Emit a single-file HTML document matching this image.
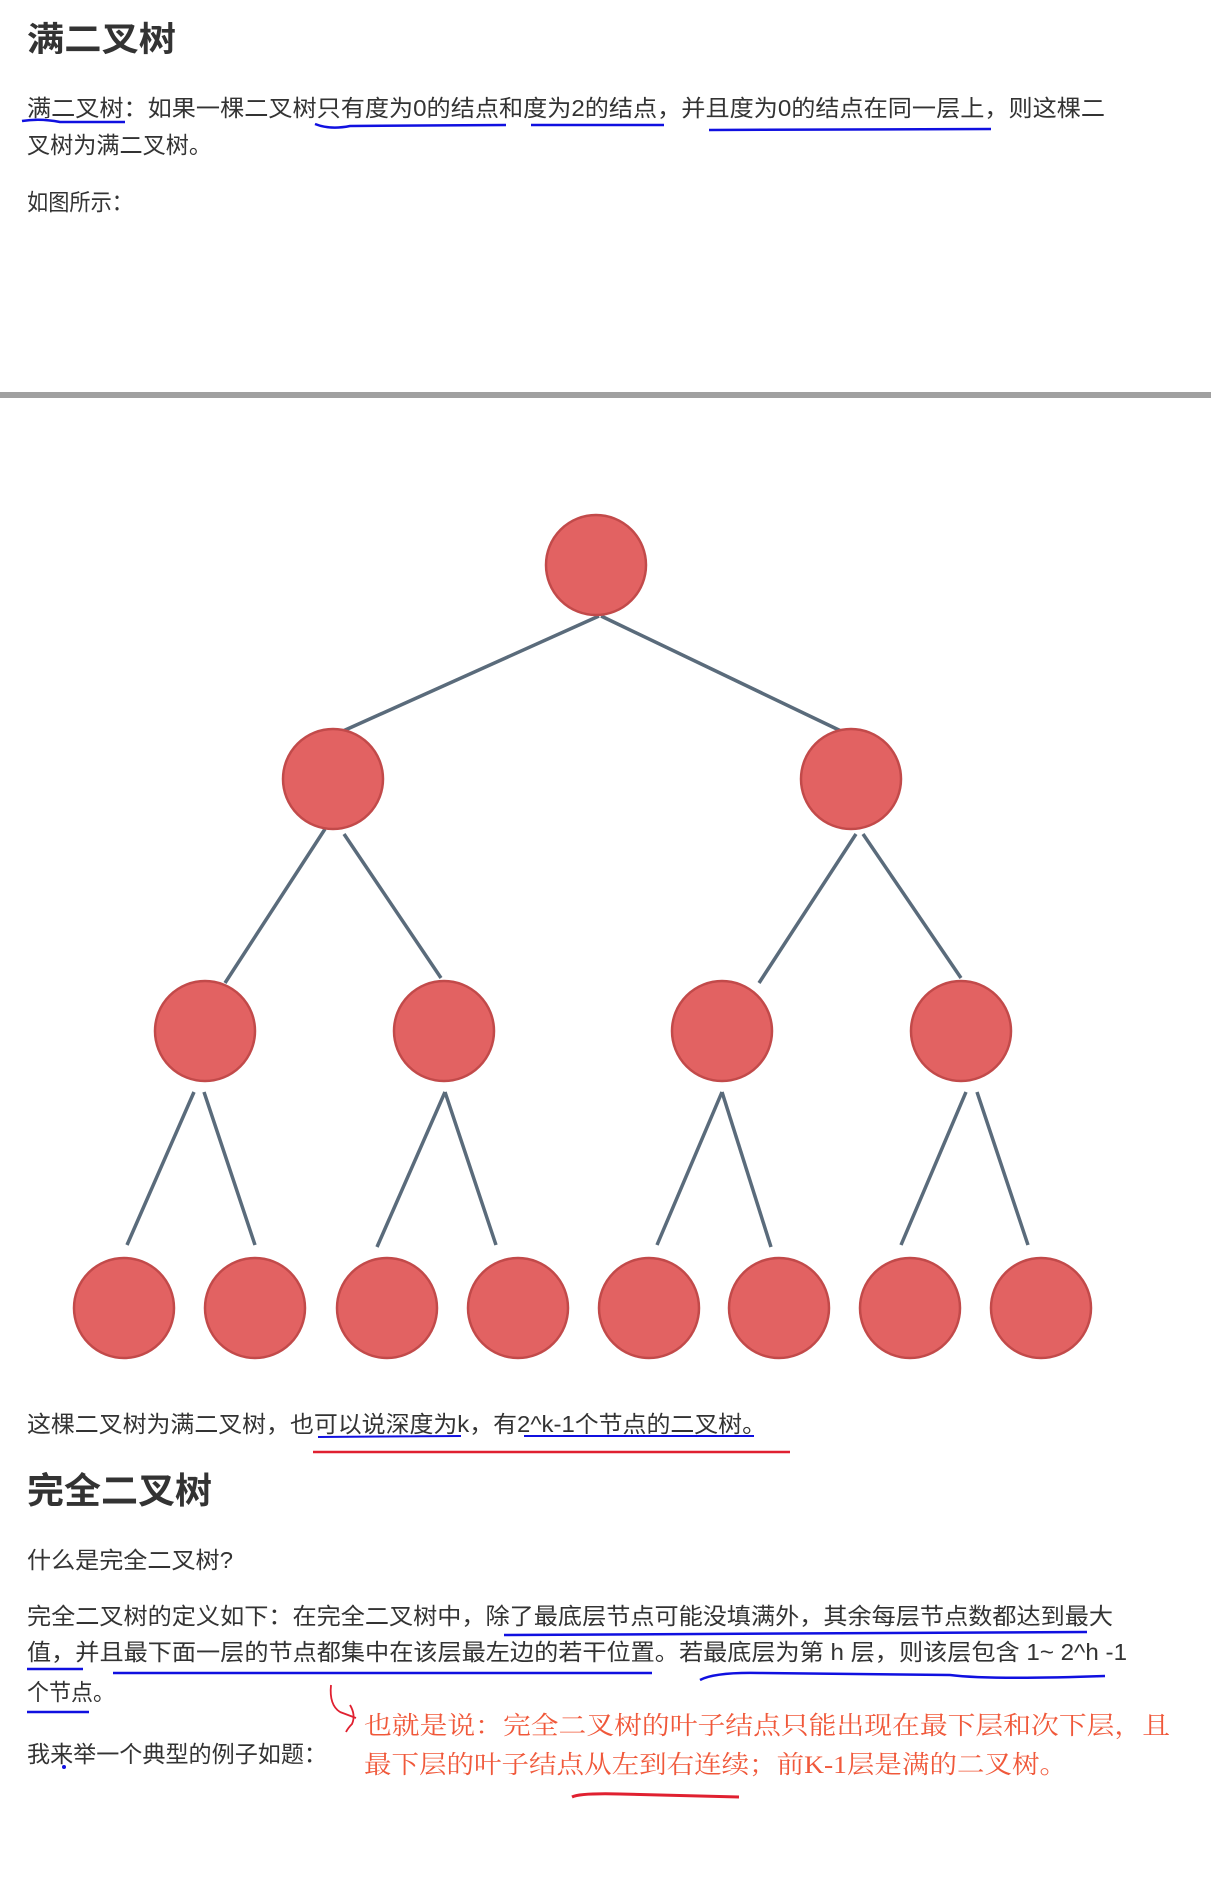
<!DOCTYPE html>
<html><head><meta charset="utf-8"><style>
html,body{margin:0;padding:0;background:#fff;width:1211px;height:1900px;overflow:hidden}
svg{display:block}
.t{font-family:"Liberation Sans","Noto Sans CJK SC",sans-serif;fill:#333;font-size:23px}
.h{font-family:"Liberation Sans","Noto Sans CJK SC",sans-serif;fill:#333;font-weight:bold}
.r{font-family:"Liberation Serif","Noto Serif CJK SC",serif;fill:#f0583a;font-size:25px}
</style></head><body>
<svg width="1211" height="1900" viewBox="0 0 1211 1900" xmlns="http://www.w3.org/2000/svg">
<text class="h" x="27" y="51" font-size="34" textLength="149" lengthAdjust="spacingAndGlyphs">满二叉树</text>
<text class="t" x="27" y="116" textLength="1078" lengthAdjust="spacingAndGlyphs">满二叉树：如果一棵二叉树只有度为0的结点和度为2的结点，并且度为0的结点在同一层上，则这棵二</text>
<text class="t" x="27" y="153" textLength="185" lengthAdjust="spacingAndGlyphs">叉树为满二叉树。</text>
<text class="t" x="27" y="210" textLength="106" lengthAdjust="spacingAndGlyphs">如图所示：</text>
<g stroke="#1010e0" stroke-width="2.5" fill="none">
<path d="M22 121 Q40 118 60 122 L125 122"/>
<path d="M315 124 Q330 130 350 126 L506 125"/>
<path d="M531 125 L664 125"/>
<path d="M709 130 L991 129"/>
</g>
<rect x="0" y="392" width="1211" height="6" fill="#a0a0a0"/>
<g stroke="#5a6b7b" stroke-width="3.5" fill="none">
<line x1="599" y1="616" x2="343" y2="731"/><line x1="601" y1="616" x2="841" y2="731"/>
<line x1="325" y1="829" x2="225" y2="983"/><line x1="344" y1="834" x2="441" y2="978"/>
<line x1="856" y1="834" x2="759" y2="983"/><line x1="863" y1="834" x2="961" y2="978"/>
<line x1="194" y1="1092" x2="127" y2="1245"/><line x1="204" y1="1092" x2="255" y2="1245"/>
<line x1="445" y1="1092" x2="377" y2="1247"/><line x1="445" y1="1092" x2="496" y2="1245"/>
<line x1="722" y1="1092" x2="657" y2="1245"/><line x1="722" y1="1092" x2="771" y2="1247"/>
<line x1="966" y1="1092" x2="901" y2="1245"/><line x1="977" y1="1092" x2="1028" y2="1245"/>
</g>
<g fill="#e26262" stroke="#c24a4a" stroke-width="2.5">
<circle cx="596" cy="565" r="50"/>
<circle cx="333" cy="779" r="50"/><circle cx="851" cy="779" r="50"/>
<circle cx="205" cy="1031" r="50"/><circle cx="444" cy="1031" r="50"/><circle cx="722" cy="1031" r="50"/><circle cx="961" cy="1031" r="50"/>
<circle cx="124" cy="1308" r="50"/><circle cx="255" cy="1308" r="50"/><circle cx="387" cy="1308" r="50"/><circle cx="518" cy="1308" r="50"/>
<circle cx="649" cy="1308" r="50"/><circle cx="779" cy="1308" r="50"/><circle cx="910" cy="1308" r="50"/><circle cx="1041" cy="1308" r="50"/>
</g>
<text class="t" x="27" y="1432" textLength="739" lengthAdjust="spacingAndGlyphs">这棵二叉树为满二叉树，也可以说深度为k，有2^k-1个节点的二叉树。</text>
<g stroke="#1010e0" stroke-width="2" fill="none">
<line x1="318" y1="1437" x2="461" y2="1436"/><line x1="524" y1="1436" x2="754" y2="1436"/>
</g>
<line x1="313" y1="1452" x2="790" y2="1452" stroke="#e02030" stroke-width="2.5"/>
<text class="h" x="27" y="1503" font-size="36" textLength="185" lengthAdjust="spacingAndGlyphs">完全二叉树</text>
<text class="t" x="27" y="1568" textLength="206" lengthAdjust="spacingAndGlyphs">什么是完全二叉树?</text>
<text class="t" x="27" y="1624" textLength="1086" lengthAdjust="spacingAndGlyphs">完全二叉树的定义如下：在完全二叉树中，除了最底层节点可能没填满外，其余每层节点数都达到最大</text>
<text class="t" x="27" y="1660" textLength="1100" lengthAdjust="spacingAndGlyphs">值，并且最下面一层的节点都集中在该层最左边的若干位置。若最底层为第 h 层，则该层包含 1~ 2^h -1</text>
<text class="t" x="27" y="1700" textLength="88" lengthAdjust="spacingAndGlyphs">个节点。</text>
<g stroke="#1010e0" stroke-width="2.5" fill="none">
<path d="M504 1635 L1087 1632"/>
<path d="M27 1669 L83 1669"/>
<path d="M113 1673 L652 1673"/>
<path d="M700 1680 Q715 1672 760 1673 L950 1675 Q990 1680 1105 1676"/>
<path d="M27 1712 L89 1712"/>
</g>
<text class="t" x="27" y="1762" textLength="300" lengthAdjust="spacingAndGlyphs">我来举一个典型的例子如题：</text>
<circle cx="64" cy="1767" r="2" fill="#1010e0"/>
<path d="M331 1685 Q329 1705 340 1712 M340 1712 L356 1718 M350 1705 Q356 1715 352 1724 Q348 1728 346 1732" stroke="#e02030" stroke-width="1.8" fill="none"/>
<text class="r" x="364" y="1734" textLength="806" lengthAdjust="spacingAndGlyphs">也就是说：完全二叉树的叶子结点只能出现在最下层和次下层，且</text>
<text class="r" x="364" y="1773" textLength="703" lengthAdjust="spacingAndGlyphs">最下层的叶子结点从左到右连续；前K-1层是满的二叉树。</text>
<path d="M572 1797 Q580 1793 620 1794 L739 1797" stroke="#e02030" stroke-width="3" fill="none"/>
</svg>
</body></html>
